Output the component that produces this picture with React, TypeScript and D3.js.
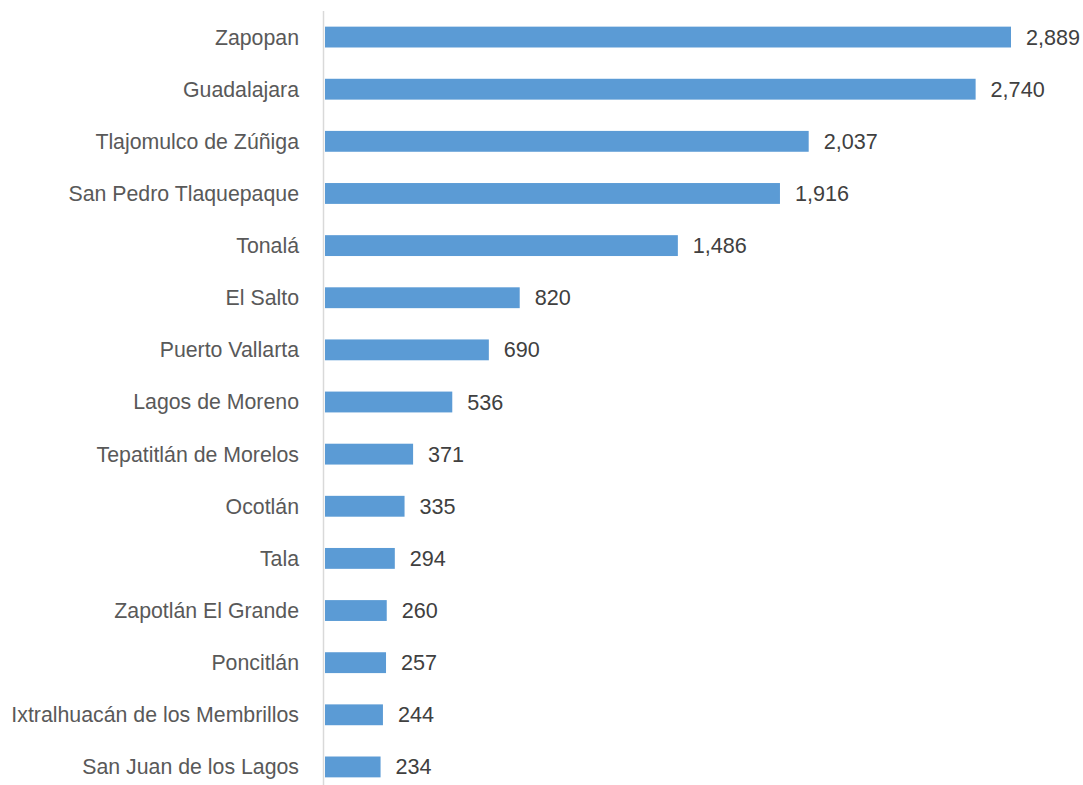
import React from "react";
import * as d3 from "d3";

const categories = [
  "Zapopan",
  "Guadalajara",
  "Tlajomulco de Zúñiga",
  "San Pedro Tlaquepaque",
  "Tonalá",
  "El Salto",
  "Puerto Vallarta",
  "Lagos de Moreno",
  "Tepatitlán de Morelos",
  "Ocotlán",
  "Tala",
  "Zapotlán El Grande",
  "Poncitlán",
  "Ixtralhuacán de los Membrillos",
  "San Juan de los Lagos",
];
const values = [2889, 2740, 2037, 1916, 1486, 820, 690, 536, 371, 335, 294, 260, 257, 244, 234];

const W = 1083;
const H = 785;
const x0 = 325;

export default function App() {
  const x = d3.scaleLinear().domain([0, 2889]).range([x0, 1011]);
  const y = d3
    .scaleBand<string>()
    .domain(categories)
    .range([11, 793])
    .paddingInner(0.6)
    .paddingOuter(0.3);
  const fmt = d3.format(",");
  return (
    <svg
      width={W}
      height={H}
      style={{ position: "absolute", left: 0, top: 0, background: "#fff" }}
      fontFamily="'Liberation Sans', Arial, sans-serif"
    >
      {categories.map((c, i) => {
        const yc = (y(c) as number) + y.bandwidth() / 2;
        return (
          <g key={c}>
            <rect
              x={x(0)}
              y={y(c)}
              width={x(values[i]) - x(0)}
              height={y.bandwidth()}
              fill="#5B9BD5"
            />
            <text
              x={299}
              y={yc}
              dy="0.35em"
              textAnchor="end"
              fontSize={21.3}
              fill="#595959"
            >
              {c}
            </text>
            <text
              x={x(values[i]) + 15}
              y={yc}
              dy="0.35em"
              fontSize={21.6}
              fill="#404040"
            >
              {fmt(values[i])}
            </text>
          </g>
        );
      })}
      <line x1={323.5} x2={323.5} y1={11} y2={H} stroke="#D9D9D9" strokeWidth={1.5} />
    </svg>
  );
}
